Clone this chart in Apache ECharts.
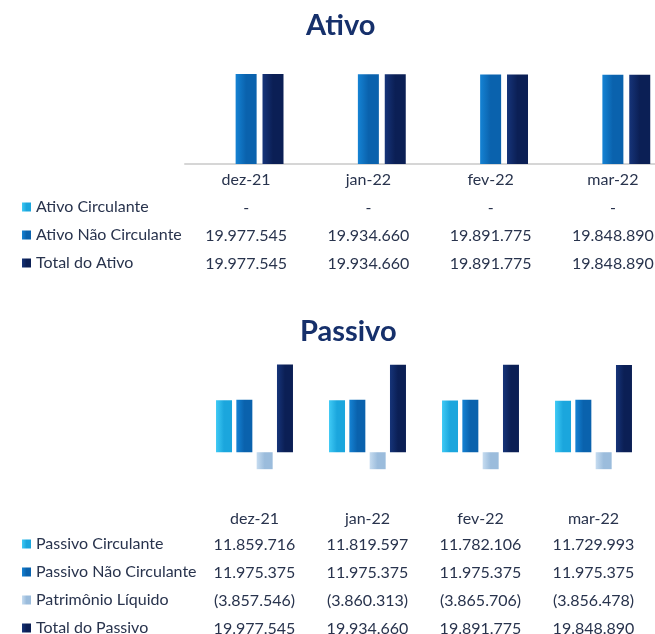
<!DOCTYPE html>
<html>
<head>
<meta charset="utf-8">
<script src="https://cdn.jsdelivr.net/npm/echarts@6/dist/echarts.min.js"></script>
<style>
  html, body { margin: 0; padding: 0; background: #fff; }
  #chart { width: 655px; height: 634px; }
</style>
</head>
<body>
<div id="chart"></div>
<script>
const months = ['dez-21', 'jan-22', 'fev-22', 'mar-22']

const ativoCirculante = [0, 0, 0, 0]
const ativoNaoCirculante = [19977545, 19934660, 19891775, 19848890]
const totalAtivo = [19977545, 19934660, 19891775, 19848890]

const passivoCirculante = [11859716, 11819597, 11782106, 11729993]
const passivoNaoCirculante = [11975375, 11975375, 11975375, 11975375]
const patrimonioLiquido = [-3857546, -3860313, -3865706, -3856478]
const totalPassivo = [19977545, 19934660, 19891775, 19848890]

const FONT = 'Lato'
const TEXT = '#28334d'

// 19.977.545 / (3.857.546) / -
function fmt(v) {
  if (v === 0) return '-'
  const s = Math.abs(v).toString().replace(/\B(?=(\d{3})+(?!\d))/g, '.')
  return v < 0 ? '(' + s + ')' : s
}

function grad(light, dark) {
  return new echarts.graphic.LinearGradient(0, 0, 1, 0, [
    { offset: 0, color: light },
    { offset: 0.5, color: dark },
    { offset: 1, color: dark }
  ])
}

const colors = {
  circ: grad('#3fcaf5', '#1ba6dd'),
  naoCirc: grad('#1583d4', '#0a62ad'),
  pl: grad('#c6dcf0', '#9bbcdc'),
  total: grad('#163479', '#0b1f55')
}

// one category axis per table row, stacked under the grid
function rowAxis(gridIndex, offset, values, line) {
  return {
    type: 'category',
    gridIndex,
    data: months,
    position: 'bottom',
    offset,
    axisLine: { show: !!line, onZero: false, lineStyle: { color: '#d6d6d6', width: 2 } },
    axisTick: { show: false },
    axisLabel: {
      interval: 0,
      margin: 8,
      fontFamily: FONT,
      fontSize: 16,
      color: TEXT,
      formatter: values ? (v, i) => fmt(values[i]) : '{value}'
    }
  }
}

const legendBase = {
  orient: 'vertical', left: 22, padding: 0, height: 130,
  icon: 'rect', itemWidth: 9, itemHeight: 9, itemGap: 12,
  selectedMode: false,
  textStyle: { fontFamily: FONT, fontSize: 16, color: TEXT }
}

const chart = echarts.init(document.getElementById('chart'))

const option = {
  animation: false,
  title: [
    {
      text: 'Ativo', left: 301, top: 6,
      textStyle: { fontFamily: FONT, fontSize: 29, fontWeight: 'bold', color: '#16306b' }
    },
    {
      text: 'Passivo', left: 295, top: 312,
      textStyle: { fontFamily: FONT, fontSize: 29, fontWeight: 'bold', color: '#16306b' }
    }
  ],
  legend: [
    Object.assign({}, legendBase, {
      data: ['Ativo Circulante', 'Ativo Não Circulante', 'Total do Ativo'],
      top: 199
    }),
    Object.assign({}, legendBase, {
      data: ['Passivo Circulante', 'Passivo Não Circulante', 'Patrimônio Líquido', 'Total do Passivo'],
      top: 536
    })
  ],
  grid: [
    { left: 185, top: 65, width: 489, height: 99, outerBoundsMode: 'none' },
    { left: 198, top: 360, width: 452, height: 112, outerBoundsMode: 'none' }
  ],
  xAxis: [
    rowAxis(0, 0, null, true),
    rowAxis(0, 28, ativoCirculante),
    rowAxis(0, 56, ativoNaoCirculante),
    rowAxis(0, 84, totalAtivo),
    rowAxis(1, 31, null, false),
    rowAxis(1, 57, passivoCirculante),
    rowAxis(1, 85, passivoNaoCirculante),
    rowAxis(1, 113, patrimonioLiquido),
    rowAxis(1, 141, totalPassivo)
  ],
  yAxis: [
    { type: 'value', gridIndex: 0, min: 0, max: 22000000, show: false },
    { type: 'value', gridIndex: 1, min: -4500000, max: 21000000, show: false }
  ],
  series: [
    { name: 'Ativo Circulante', data: ativoCirculante, color: colors.circ, top: true },
    { name: 'Ativo Não Circulante', data: ativoNaoCirculante, color: colors.naoCirc, top: true },
    { name: 'Total do Ativo', data: totalAtivo, color: colors.total, top: true },
    { name: 'Passivo Circulante', data: passivoCirculante, color: colors.circ },
    { name: 'Passivo Não Circulante', data: passivoNaoCirculante, color: colors.naoCirc },
    { name: 'Patrimônio Líquido', data: patrimonioLiquido, color: colors.pl },
    { name: 'Total do Passivo', data: totalPassivo, color: colors.total }
  ].map(s => ({
    name: s.name,
    type: 'bar',
    data: s.data,
    xAxisIndex: s.top ? 0 : 4,
    yAxisIndex: s.top ? 0 : 1,
    barWidth: s.top ? 21 : 16,
    barGap: s.top ? '28%' : '27%',
    itemStyle: { color: s.color },
    emphasis: { disabled: true }
  }))
}

chart.setOption(option)
</script>
</body>
</html>
